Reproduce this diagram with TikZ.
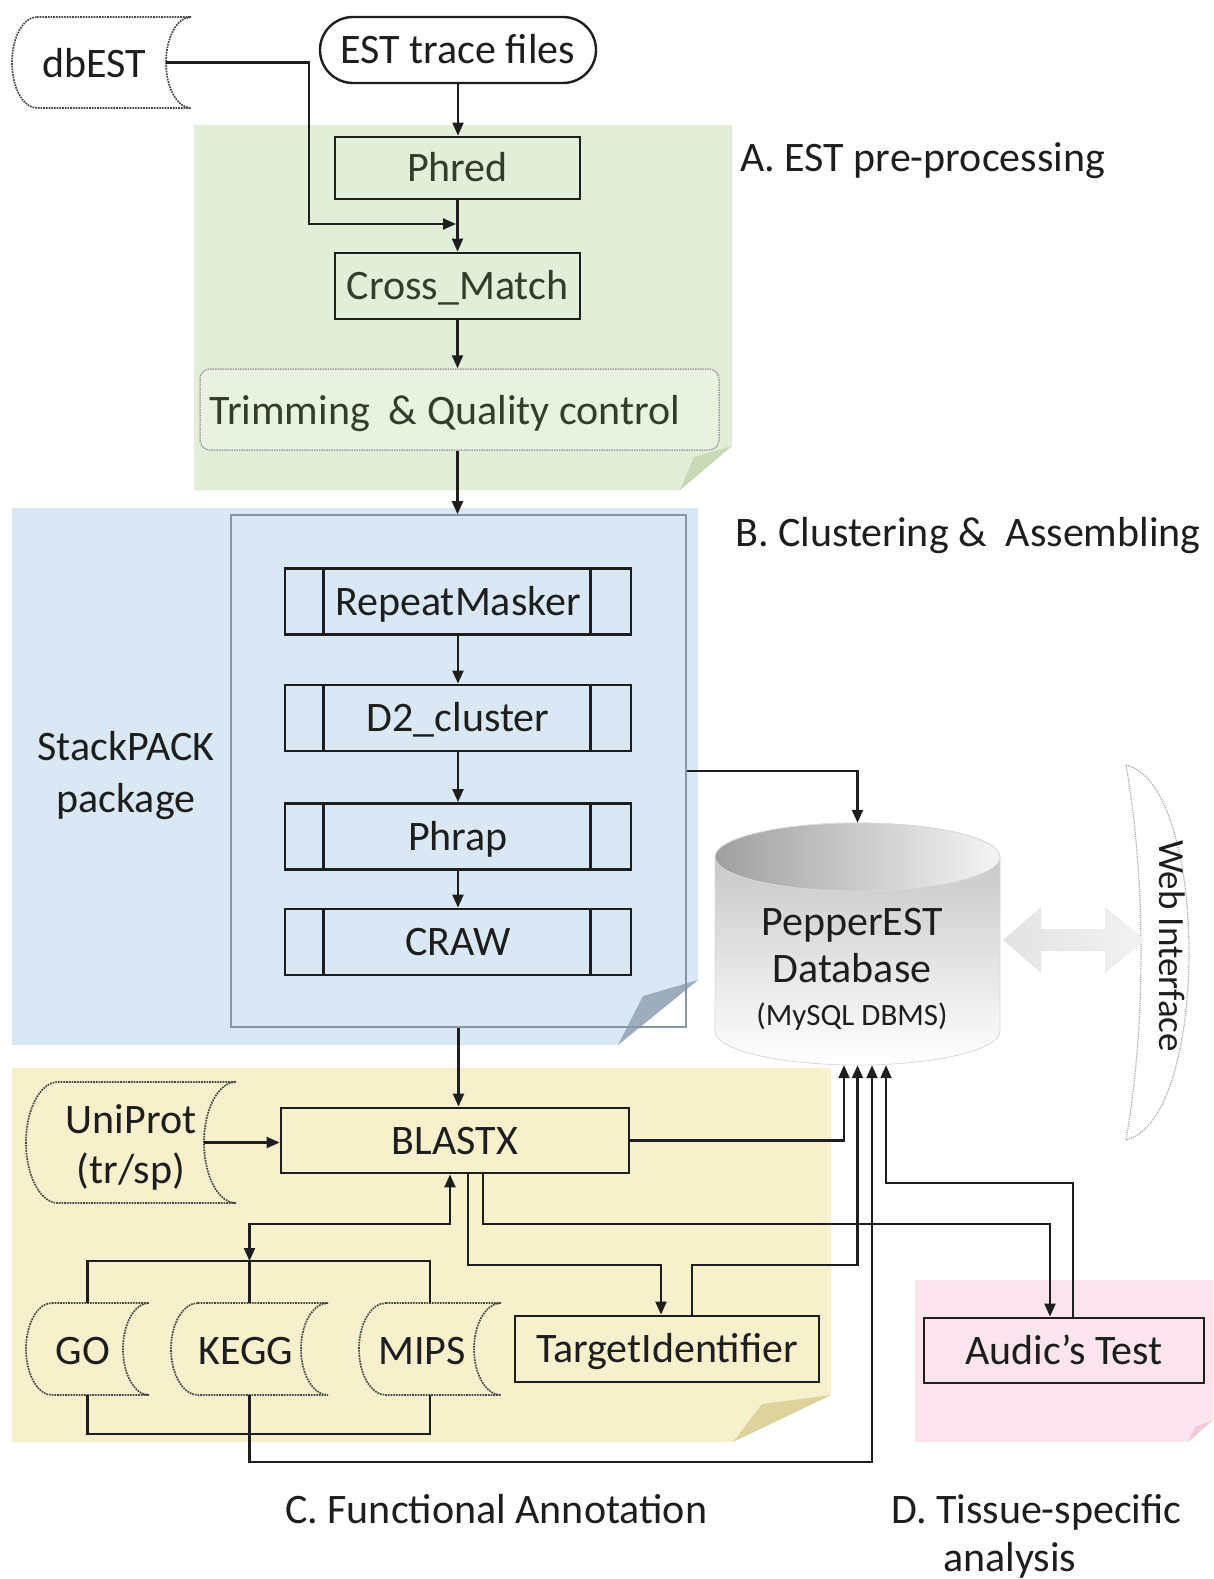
\documentclass[tikz,border=0pt]{standalone}
\usepackage{fontspec}
\setmainfont{Carlito}
\usetikzlibrary{arrows.meta,calc}
\definecolor{pgreen}{HTML}{E2EED8}
\definecolor{pgreenf}{HTML}{C8D9B6}
\definecolor{pblue}{HTML}{DAE8F5}
\definecolor{pbluef}{HTML}{9DADBD}
\definecolor{pyel}{HTML}{F6F0CC}
\definecolor{pyelf}{HTML}{DED39C}
\definecolor{ppink}{HTML}{FCE4EF}
\definecolor{ppinkf}{HTML}{F1CADC}
\definecolor{ink}{HTML}{1E1E1E}
\definecolor{gink}{HTML}{333D2B}
\definecolor{trimfill}{HTML}{E9F2E1}
\definecolor{innerline}{HTML}{8496A8}
\newcommand\storeshape[6]{%
  \pgfmathsetmacro\sdm{(#2+#4)/2}%
  \pgfmathsetmacro\sdh{0.552*(#4-#2)/2}%
  \pgfmathsetmacro\sdr{0.552*#5}%
  \draw[#6] (#1+#5,#2) -- (#3,#2)
     .. controls (#3-\sdr,#2) and (#3-#5,\sdm-\sdh) .. (#3-#5,\sdm)
     .. controls (#3-#5,\sdm+\sdh) and (#3-\sdr,#4) .. (#3,#4)
     -- (#1+#5,#4)
     .. controls (#1+#5-\sdr,#4) and (#1,\sdm+\sdh) .. (#1,\sdm)
     .. controls (#1,\sdm-\sdh) and (#1+#5-\sdr,#2) .. cycle;
}
\begin{document}
\begin{tikzpicture}[x=1pt,y=-1pt,
  every node/.style={font=\fontsize{42}{50}\selectfont, text=ink, inner sep=0pt, text height=27pt, text depth=0pt},
  boxst/.style={draw=ink, line width=2.8pt},
  conn/.style={draw=ink, line width=2.2pt, -{Triangle[length=13pt,width=11pt]}},
  connboth/.style={draw=ink, line width=2.2pt, {Triangle[length=13pt,width=11pt]}-{Triangle[length=13pt,width=11pt]}},
  wire/.style={draw=ink, line width=2.2pt},
  store/.style={draw=gray!55!black, line width=1.7pt, densely dotted},
  procline/.style={draw=ink, line width=2.4pt}]
\useasboundingbox (0,0) rectangle (1213,1579);
\fill[white] (0,0) rectangle (1213,1579);

% ---------- panels ----------
\fill[pgreen] (194,125) -- (732,125) -- (732,446) -- (680,490) -- (194,490) -- cycle;
\fill[pgreenf] (732,446) -- (680,490) -- (694,457) -- cycle;
\fill[pblue] (12,508) -- (698,508) -- (698,980) -- (618,1045) -- (12,1045) -- cycle;
\fill[pbluef] (698,980) -- (618,1045) -- (643,996) -- cycle;
\fill[pyel] (12,1068) -- (831,1068) -- (831,1395) -- (733,1442) -- (12,1442) -- cycle;
\fill[pyelf] (831,1395) -- (733,1442) -- (762,1404) -- cycle;
\fill[ppink] (915,1280) -- (1213,1280) -- (1213,1420) -- (1188,1442) -- (915,1442) -- cycle;
\fill[ppinkf] (1213,1420) -- (1188,1442) -- (1195,1427) -- cycle;

% ---------- labels ----------
\node[anchor=west] (la) at (740,158) {A. EST pre-processing};
\node[anchor=west] (lb) at (735,533) {B. Clustering \&~ Assembling};
\node[anchor=west] (lc) at (285,1510) {C. Functional Annotation};
\node[anchor=west] (ld) at (891,1510) {D. Tissue-specific};
\node[anchor=west] (ld2) at (943,1558) {analysis};

% ---------- A ----------
\storeshape{12}{17}{191}{108}{25}{store, fill=white}
\node[minimum width=179pt, minimum height=91pt] (dbest) at (101.5,62.5) {};
\node (dbestt) at (94,64) {dbEST};
\node[draw=ink, line width=2.4pt, rounded corners=33pt, fill=white, minimum width=276pt, minimum height=66pt] (est) at (458,50) {EST trace files};
\node[boxst, text=gink, minimum width=245pt, minimum height=62pt] (phred) at (457.5,168) {Phred};
\node[boxst, text=gink, minimum width=245pt, minimum height=66pt] (cross) at (457.5,286) {Cross\_Match};
\node[draw=gray!75, densely dotted, line width=1.5pt, rounded corners=10pt, fill=trimfill, minimum width=519pt, minimum height=81pt] (trim) at (459.5,409.5) {};
\node[text=gink, anchor=west] (trimt) at (209,411) {Trimming~ \& Quality control};

% ---------- B ----------
\node[draw=innerline, line width=1.6pt, minimum width=455pt, minimum height=512pt] (inner) at (458.5,771) {};
\node (sp1) at (126,747) {StackPACK};
\node (sp2) at (126,799) {package};
\node[boxst, minimum width=346pt, minimum height=66pt] (rm) at (458,601.5) {RepeatMasker};
\node[boxst, minimum width=346pt, minimum height=66pt] (d2) at (458,718) {D2\_cluster};
\node[boxst, minimum width=346pt, minimum height=66pt] (phrap) at (458,836.5) {Phrap};
\node[boxst, minimum width=346pt, minimum height=66pt] (craw) at (458,942) {CRAW};
\foreach \n in {rm,d2,phrap,craw}{
  \draw[procline] ([xshift=40pt]\n.north west) -- ([xshift=40pt]\n.south west);
  \draw[procline] ([xshift=-42pt]\n.north east) -- ([xshift=-42pt]\n.south east);
}

% ---------- database ----------
\path[top color=gray!50, bottom color=white, draw=gray!30, line width=0.8pt]
  (715,857) -- (715,1031) .. controls (715,1049.8) and (778.8,1065) .. (857.5,1065)
  .. controls (936.2,1065) and (1000,1049.8) .. (1000,1031) -- (1000,857)
  .. controls (1000,838.2) and (936.2,823) .. (857.5,823)
  .. controls (778.8,823) and (715,838.2) .. (715,857) -- cycle;
\path[left color=gray!75, right color=gray!8, draw=gray!30, line width=0.8pt]
  (857.5,857) ellipse [x radius=142.5, y radius=34];
\node[minimum width=285pt, minimum height=242pt] (db) at (857.5,944) {};
\node (dbt1) at (852,922) {PepperEST};
\node (dbt2) at (852,969) {Database};
\node[font=\fontsize{31}{37}\selectfont, text height=20pt] (dbt3) at (852,1015) {(MySQL DBMS)};

% ---------- web interface ----------
\draw[draw=gray!65, densely dotted, line width=1.2pt]
  (1126,765) .. controls (1210,785) and (1210,1120) .. (1126,1140)
  .. controls (1146,1025) and (1146,880) .. (1126,765) -- cycle;
\node[rotate=-90, font=\fontsize{37}{44}\selectfont, text height=24pt] (web) at (1171,946) {Web Interface};
\path[left color=gray!22, right color=gray!10]
  (1003,940) -- (1041,907) -- (1041,929) -- (1105,929) -- (1105,907) -- (1145,940)
  -- (1105,973) -- (1105,951) -- (1041,951) -- (1041,973) -- cycle;

% ---------- C ----------
\storeshape{26}{1082}{236}{1203}{32}{store}
\node[minimum width=210pt, minimum height=121pt] (uni) at (131,1142.5) {};
\node (unit1) at (131,1120) {UniProt};
\node (unit2) at (131,1170) {(tr/sp)};
\node[boxst, minimum width=348pt, minimum height=65pt] (blastx) at (455,1140.5) {BLASTX};
\storeshape{26}{1303}{149}{1395}{26}{store}
\node[minimum width=123pt, minimum height=92pt] (go) at (87.5,1349) {};
\node (got) at (83,1351) {GO};
\storeshape{171}{1303}{328}{1395}{27}{store}
\node[minimum width=157pt, minimum height=92pt] (kegg) at (249.5,1349) {};
\node (keggt) at (246,1351) {KEGG};
\storeshape{359}{1303}{501}{1395}{27}{store}
\node[minimum width=142pt, minimum height=92pt] (mips) at (430,1349) {};
\node (mipst) at (422,1351) {MIPS};
\node[boxst, minimum width=304pt, minimum height=66pt] (target) at (667,1349) {TargetIdentifier};

% ---------- D ----------
\node[boxst, minimum width=280pt, minimum height=65pt] (audic) at (1064,1350.5) {Audic’s Test};

% ---------- connectors ----------
\coordinate (dbeste) at ([xshift=-25pt]dbest.east);
\coordinate (dbbend) at (309,150);
\coordinate (dbj) at (456,224);
\draw[conn] (est.south) -- (est.south |- phred.north);
\draw[conn] (phred.south) -- (phred.south |- cross.north);
\draw[conn] (dbeste) -| (dbbend) |- (dbj);
\draw[conn] (cross.south) -- (cross.south |- trim.north);
\draw[conn] (cross.south |- trim.south) -- (cross.south |- inner.north);
\draw[conn] (rm.south) -- (d2.north);
\draw[conn] (d2.south) -- (phrap.north);
\draw[conn] (phrap.south) -- (craw.north);
\draw[conn] (inner.east) -| (db.north);
\draw[conn] (inner.south) -- (inner.south |- blastx.north);
\coordinate (unie) at ([xshift=-32pt]uni.east);
\draw[conn] (unie) -- (unie -| blastx.west);

\coordinate (dbin1) at ([xshift=-13.5pt]db.south);
\coordinate (dbin2) at ([xshift=0pt]db.south);
\coordinate (dbin3) at ([xshift=14.5pt]db.south);
\coordinate (dbin4) at ([xshift=28.5pt]db.south);
\draw[conn] (blastx.east) -| (dbin1);
\coordinate (tgy) at (0,1265);
\coordinate (tgout) at ([xshift=25pt]target.north);
\draw[conn] (tgout) |- (dbin2 |- tgy) -- (dbin2);
\coordinate (kgy) at (0,1462);
\draw[conn] (kegg.south) |- (dbin3 |- kgy) -- (dbin3);
\coordinate (auy) at (0,1183);
\coordinate (auout) at ([xshift=9pt]audic.north);
\draw[conn] (auout) |- (dbin4 |- auy) -- (dbin4);

\coordinate (bt1) at ([xshift=13pt]blastx.south);
\coordinate (tin) at ([xshift=-6pt]target.north);
\draw[conn] (bt1) |- (tin |- tgy) -- (tin);
\coordinate (bt2) at ([xshift=28pt]blastx.south);
\coordinate (ain) at ([xshift=-14pt]audic.north);
\coordinate (bay) at (0,1224);
\draw[conn] (bt2) |- (ain |- bay) -- (ain);
\coordinate (bt3) at ([xshift=-5pt]blastx.south);
\coordinate (bry) at (0,1261);
\coordinate (brk) at (kegg.north |- bry);
\draw[connboth] (brk) |- (bt3 |- bay) -- (bt3);
\draw[wire] (go.north) |- (mips.north |- bry) -- (mips.north);
\draw[wire] (kegg.north) -- (brk);
\coordinate (bby) at (0,1434);
\draw[wire] (go.south) |- (mips.south |- bby) -- (mips.south);
\end{tikzpicture}
\end{document}
